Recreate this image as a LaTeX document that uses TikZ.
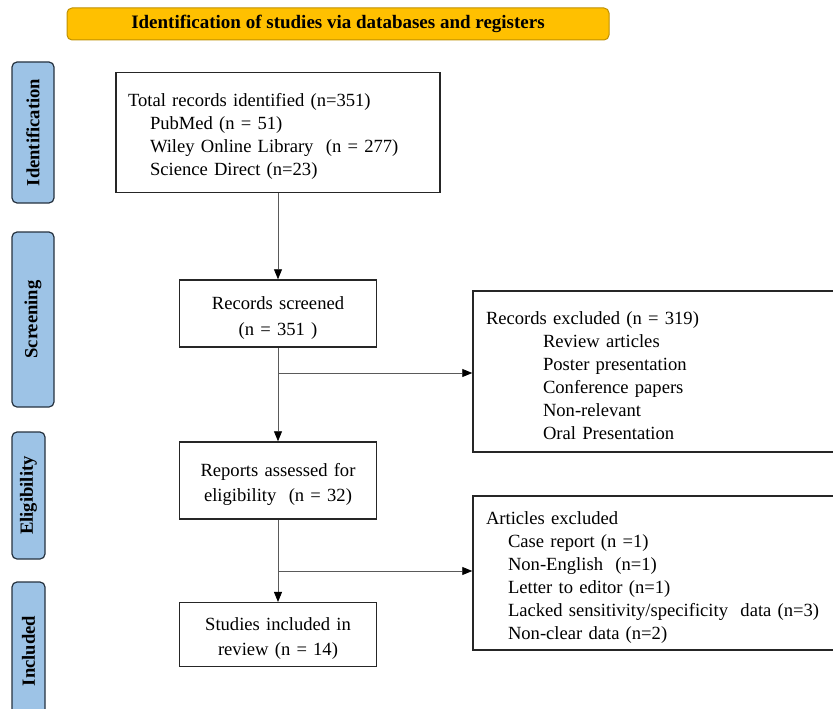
\documentclass[tikz,border=0pt]{standalone}
\usepackage{fontspec}
\setmainfont{Liberation Serif}
\usetikzlibrary{arrows.meta}
\definecolor{hdrfill}{HTML}{FFC000}
\definecolor{hdrline}{HTML}{BF9000}
\definecolor{phasefill}{HTML}{9DC3E6}
\definecolor{phaseline}{HTML}{26323F}
\definecolor{flowline}{HTML}{5A5A5A}

\begin{document}
\begin{tikzpicture}[x=1pt,y=-1pt,
            box/.style={draw=black!85,line width=1.5pt,font=\fontsize{18.6}{23}\selectfont,
                execute at begin node={\rule{0pt}{21pt}}},
            midbox/.style={box,text width=184pt,minimum width=197pt,align=center},
            phase/.style={draw=phaseline,fill=phasefill,line width=1.2pt,rounded corners=5pt,
                rotate=90,font=\fontsize{18.6}{22}\selectfont\bfseries},
            arr/.style={draw=flowline,line width=0.8pt,-{Triangle[length=10pt,width=8pt,black]}}]
            \useasboundingbox (0,0) rectangle (833,709);
            \clip (0,0) rectangle (833,709);
            \node[draw=hdrline,fill=hdrfill,line width=1pt,rounded corners=5pt,
                minimum width=542pt,minimum height=32pt,font=\fontsize{19}{20}\selectfont\bfseries]
                (title) at (338,24) {Identification of studies via databases and registers};
            \node[phase,minimum width=141pt,minimum height=42pt] (pident) at (33,132.5) {Identification};
            \node[phase,minimum width=175pt,minimum height=42pt] (pscreen) at (33,319.5) {Screening};
            \node[phase,minimum width=127pt,minimum height=33pt] (pelig) at (28.5,495.5) {Eligibility};
            \node[phase,minimum width=138pt,minimum height=33pt] (pincl) at (28.5,651) {Included};
            \node[box,text width=300pt,inner xsep=12pt,minimum height=120pt,align=left] (ident) at (278,132.5)
                {Total records identified (n=351)\\
                \hspace*{22pt}PubMed (n = 51)\\
                \hspace*{22pt}Wiley Online Library\ \ (n = 277)\\
                \hspace*{22pt}Science Direct (n=23)};
            \node[midbox,minimum height=67pt] (screen) at (278,313.5)
                {Records screened\\[3pt](n = 351\ )};
            \node[box,text width=341pt,inner xsep=13pt,minimum height=161pt,align=left] (excl1) at (656.5,371.5)
                {Records excluded (n = 319)\\
                \hspace*{57pt}Review articles\\
                \hspace*{57pt}Poster presentation\\
                \hspace*{57pt}Conference papers\\
                \hspace*{57pt}Non-relevant\\
                \hspace*{57pt}Oral Presentation};
            \node[midbox,minimum height=77pt] (assess) at (278,480.5)
                {Reports assessed for\\[2pt]eligibility\ \ (n = 32)};
            \node[box,text width=341pt,inner xsep=13pt,minimum height=154pt,align=left] (excl2) at (656.5,573)
                {Articles excluded\\
                \hspace*{22pt}Case report (n =1)\\
                \hspace*{22pt}Non-English\ \ (n=1)\\
                \hspace*{22pt}Letter to editor (n=1)\\
                \hspace*{22pt}Lacked sensitivity/specificity\ \ data (n=3)\\
                \hspace*{22pt}Non-clear data (n=2)};
            \node[midbox,minimum height=64pt] (incl) at (278,634.7)
                {Studies included in\\[2pt]review (n = 14)};
            \coordinate (br1) at (278,373);
            \coordinate (br2) at (278,571);
            \draw[arr] (ident) -- (screen);
            \draw[arr] (screen) -- (assess);
            \draw[arr] (assess) -- (incl);
            \draw[arr] (br1) -- (br1 -| excl1.west);
            \draw[arr] (br2) -- (br2 -| excl2.west);
        \end{tikzpicture}
\end{document}
